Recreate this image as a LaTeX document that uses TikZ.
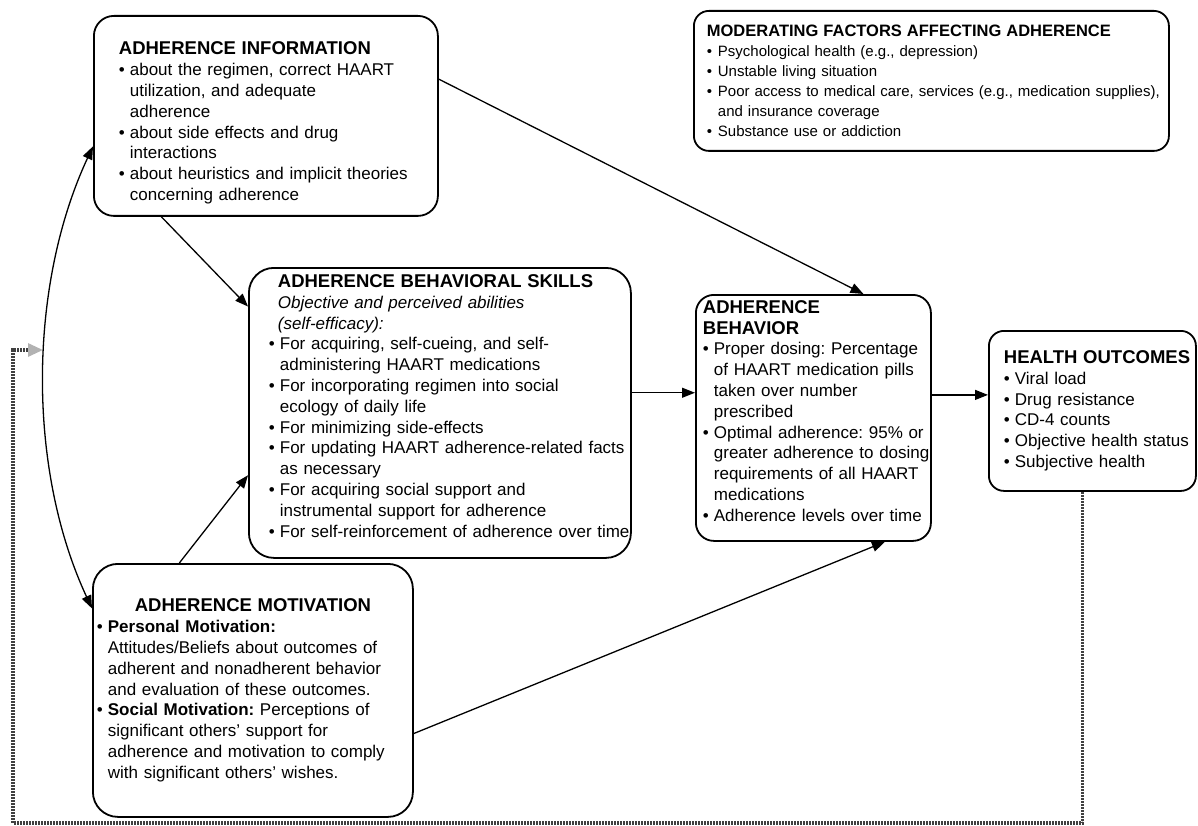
\documentclass[tikz,border=0pt]{standalone}
\usepackage{fontspec}
\setmainfont{Liberation Sans}
\usetikzlibrary{arrows.meta}

% bullet line, continuation line, and bold box titles
\newcommand{\itm}{\par\noindent\makebox[11pt][l]{\textbullet}}
\newcommand{\nl}{\par\noindent\hspace*{11pt}}
\newcommand{\hd}[1]{{\fontsize{18.5}{22}\selectfont\bfseries #1}}
\newcommand{\hds}[1]{{\fontsize{16.5}{20}\selectfont\bfseries #1}}

\begin{document}
\frenchspacing
\begin{tikzpicture}[x=1pt, y=-1pt,
    box/.style={draw, line width=1.8pt, align=left, anchor=north west, inner sep=0pt,
      font=\fontsize{17}{20.8}\selectfont},
    link/.style={-{Triangle[length=13pt,width=10pt]}, line width=1.3pt},
    feedback/.style={line width=3.4pt, black!75, dash pattern=on 2pt off 1pt},
    fbhead/.style={-{Triangle[length=15pt,width=13pt]}, line width=3pt, gray!60}]
    \useasboundingbox (0,0) rectangle (1198,826);

    % Information
    \node[box, rounded corners=20pt, minimum width=344pt, minimum height=200pt, text width=324pt]
      (info) at (93,15) {\leftskip=15pt \rule{0pt}{27pt}\hd{ADHERENCE INFORMATION}
      \itm about the regimen, correct HAART\nl utilization, and adequate\nl adherence
      \itm about side effects and drug\nl interactions
      \itm about heuristics and implicit theories\nl concerning adherence\par};

    % Moderating factors
    \node[box, rounded corners=15pt, minimum width=475pt, minimum height=140pt, text width=469pt,
      font=\fontsize{15}{20}\selectfont]
      (moder) at (693,10) {\leftskip=10pt \hds{MODERATING FACTORS AFFECTING ADHERENCE}
      \itm Psychological health (e.g., depression)
      \itm Unstable living situation
      \itm Poor access to medical care, services (e.g., medication supplies),\nl and insurance coverage
      \itm Substance use or addiction\par};

    % Behavioral skills
    \node[box, rounded corners=25pt, minimum width=382pt, minimum height=290pt, text width=382pt]
      (skills) at (248,267) {\leftskip=20pt \hspace*{9pt}\hd{ADHERENCE BEHAVIORAL SKILLS}
      \par\noindent\hspace*{9pt}\textit{Objective and perceived abilities}
      \par\noindent\hspace*{9pt}\textit{(self-efficacy):}
      \itm For acquiring, self-cueing, and self-\nl administering HAART medications
      \itm For incorporating regimen into social\nl ecology of daily life
      \itm For minimizing side-effects
      \itm For updating HAART adherence-related facts\nl as necessary
      \itm For acquiring social support and\nl instrumental support for adherence
      \itm For self-reinforcement of adherence over time\rule[-14pt]{0pt}{14pt}\par};

    % Behavior
    \node[box, rounded corners=18pt, minimum width=235pt, minimum height=246pt, text width=235pt]
      (behav) at (695,294) {\leftskip=7pt \hd{ADHERENCE}\par\hd{BEHAVIOR}
      \itm Proper dosing: Percentage\nl of HAART medication pills\nl taken over number\nl prescribed
      \itm Optimal adherence: 95\% or\nl greater adherence to dosing\nl requirements of all HAART\nl medications
      \itm Adherence levels over time\rule[-14pt]{0pt}{14pt}\par};

    % Outcomes
    \node[box, rounded corners=15pt, minimum width=207pt, minimum height=160pt, text width=203pt]
      (health) at (988,330) {\leftskip=13pt \hd{HEALTH OUTCOMES}
      \itm Viral load
      \itm Drug resistance
      \itm CD-4 counts
      \itm Objective health status
      \itm Subjective health\par};

    % Motivation
    \node[box, rounded corners=25pt, minimum width=320pt, minimum height=253pt, text width=312pt]
      (motiv) at (92,563) {\makebox[\linewidth][c]{\hd{ADHERENCE MOTIVATION}}
      \itm \textbf{Personal Motivation:}\nl Attitudes/Beliefs about outcomes of\nl adherent and nonadherent behavior\nl and evaluation of these outcomes.
      \itm \textbf{Social Motivation:} Perceptions of\nl significant others' support for\nl adherence and motivation to comply\nl with significant others' wishes.\par};

    % Paths of the model
    \draw[link] (info.12) -- (behav.68);
    \draw[link] (info.224) -- (skills.151);
    \draw[link] (motiv.120) -- (skills.198);
    \draw[link] (skills.6) -- (skills.6 -| behav.west);
    \draw[link] (behav.11) -- (behav.11 -| health.west);
    \draw[link] (motiv.-15) -- (behav.300);
    % Information <-> motivation
    \draw[link, {Triangle[length=13pt,width=10pt]}-{Triangle[length=13pt,width=10pt]}]
      (info.190) to[out=245, in=115, looseness=0.85] (motiv.153);

    % Feedback loop from outcomes
    \coordinate (fbcorner) at (13,823);
    \coordinate (fbstart) at (28,350);
    \coordinate (fbtip) at (43,350);
    \draw[feedback] (health.263) |- (fbcorner) |- (fbstart);
    \draw[fbhead] (fbstart) -- (fbtip);
\end{tikzpicture}
\end{document}
